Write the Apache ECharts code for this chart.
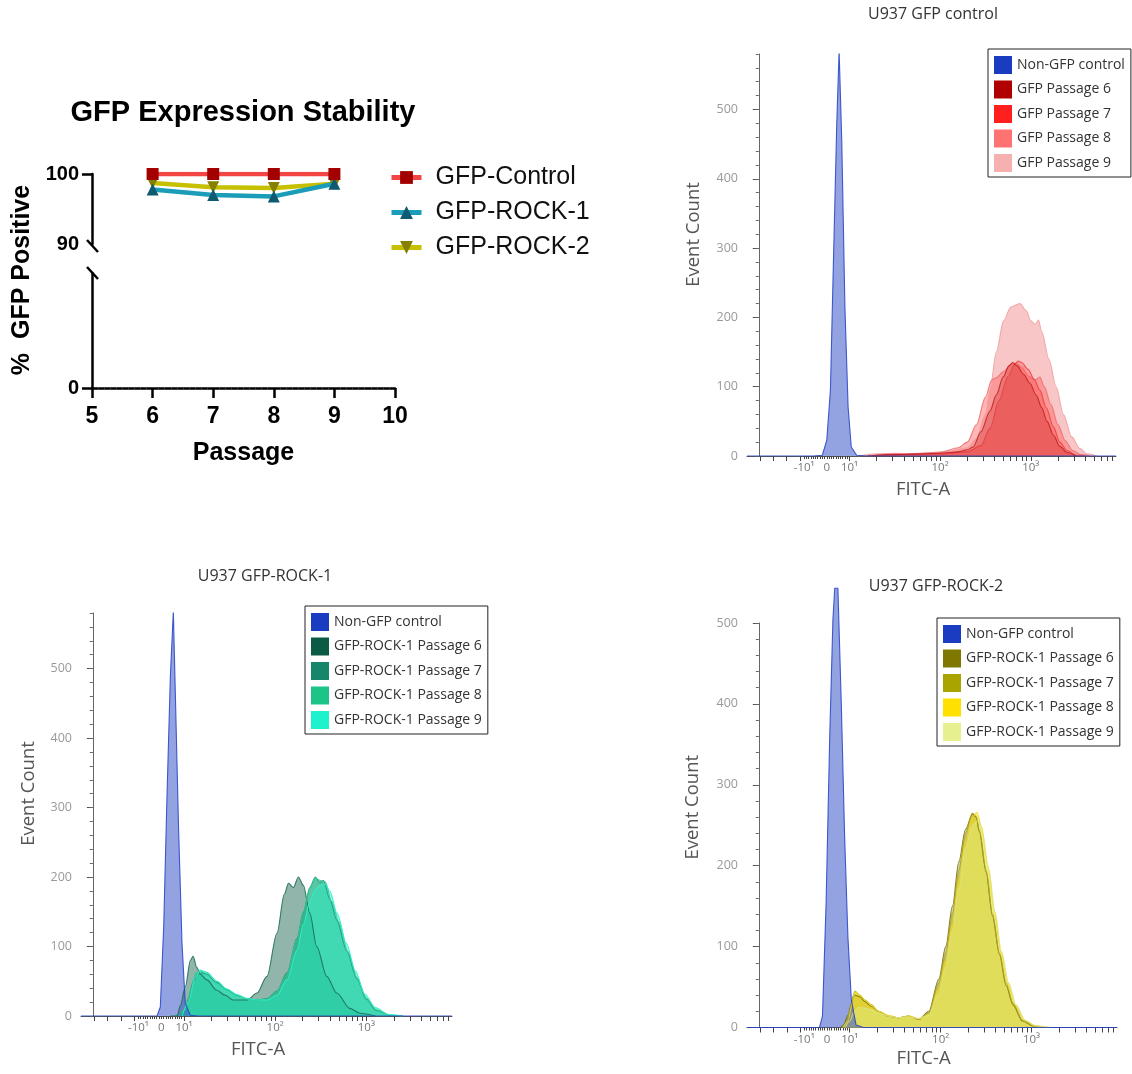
<!DOCTYPE html>
<html><head><meta charset="utf-8">
<script src="https://cdn.jsdelivr.net/npm/echarts@6/dist/echarts.min.js"></script>
<style>html,body{margin:0;padding:0;background:#fff}#c{width:1132px;height:1074px}</style>
</head><body><div id="c"></div>
<script>
// ---------- Panel A: GFP Expression Stability ----------
const passages = [6, 7, 8, 9];
const gfpControl = [100, 100, 100, 100];
const gfpRock1 = [97.8, 97.0, 96.8, 98.6];
const gfpRock2 = [98.7, 98.1, 98.0, 98.6];

// ---------- FITC axis (logicle display units: 10^k at k, 0 at 0.75, -10^1 at 0.5) ----------
const fitcTickPos = [0.5, 0.75, 1, 2, 3];
const fitcTickText = ['-10\u00b9', '0', '10\u00b9', '10\u00b2', '10\u00b3'];
const countTicks = [0, 100, 200, 300, 400, 500];

// ---------- Panel B: U937 GFP control  [FITC display units, event count] ----------
const ctrlNonGfp = [[-0.13,0],[0.6,0],[0.70,1],[0.75,23],[0.79,95],[0.82,263],[0.86,480],[0.886,585],[0.915,456],[0.95,215],[0.985,71],[1.02,13],[1.08,1],[1.2,0],[3.94,0]];
const ctrlP6 = [[1.2,0],[1.5,2],[1.8,3],[2.0,4],[2.2,6],[2.3,9],[2.364,13],[2.45,35],[2.55,65],[2.62,88],[2.695,114],[2.76,130],[2.80,135],[2.85,130],[2.92,118],[2.99,105],[3.06,88],[3.12,70],[3.18,50],[3.25,30],[3.32,14],[3.4,5],[3.5,0]];
const ctrlP7 = [[1.3,0],[1.6,2],[2.0,3],[2.3,6],[2.45,15],[2.55,40],[2.65,80],[2.75,115],[2.82,132],[2.86,137],[2.9,135],[2.97,125],[3.04,110],[3.1,95],[3.17,70],[3.25,42],[3.32,20],[3.4,8],[3.5,1],[3.6,0]];
const ctrlP8 = [[1.2,0],[1.5,3],[1.8,4],[2.0,5],[2.2,12],[2.3,20],[2.4,45],[2.5,85],[2.57,110],[2.62,113],[2.7,122],[2.78,132],[2.84,134],[2.9,128],[2.98,115],[3.05,110],[3.1,114],[3.15,100],[3.22,75],[3.3,45],[3.38,22],[3.46,8],[3.55,2],[3.65,0]];
const ctrlP9 = [[1.1,0],[1.3,3],[1.5,4],[1.7,3],[1.9,5],[2.1,7],[2.3,12],[2.4,25],[2.5,60],[2.55,95],[2.62,150],[2.7,195],[2.78,215],[2.88,220],[2.95,210],[3.0,195],[3.05,190],[3.085,196],[3.12,180],[3.2,140],[3.28,100],[3.36,60],[3.45,28],[3.54,11],[3.62,3],[3.73,0]];

// ---------- Panel C: U937 GFP-ROCK-1 ----------
const r1NonGfp = [[-0.13,0],[0.6,0],[0.704,0],[0.74,13],[0.777,128],[0.814,320],[0.85,488],[0.883,583],[0.905,464],[0.94,272],[0.978,105],[1.014,18],[1.07,1],[1.15,0],[3.94,0]];
const r1P6 = [[0.85,0],[0.923,0],[0.96,15],[1.014,42],[1.07,80],[1.1,86],[1.14,70],[1.18,60],[1.25,52],[1.36,37],[1.45,30],[1.54,23],[1.69,23],[1.8,33],[1.91,57],[2.02,119],[2.1,175],[2.146,191],[2.2,185],[2.255,200],[2.31,188],[2.38,148],[2.456,100],[2.566,57],[2.676,33],[2.82,11],[2.93,4],[3.1,0]];
const r1P7 = [[0.9,0],[1.0,5],[1.05,25],[1.1,50],[1.15,60],[1.2,62],[1.25,60],[1.36,48],[1.47,38],[1.58,30],[1.69,25],[1.8,23],[1.91,25],[2.02,36],[2.13,62],[2.24,112],[2.31,150],[2.38,185],[2.44,200],[2.49,192],[2.53,195],[2.6,168],[2.676,138],[2.785,94],[2.895,54],[3.0,24],[3.11,8],[3.26,1],[3.4,0]];
const r1P8 = [[0.95,0],[1.02,10],[1.08,40],[1.13,62],[1.18,65],[1.25,63],[1.36,50],[1.47,38],[1.58,30],[1.69,25],[1.8,23],[1.91,24],[2.02,35],[2.13,60],[2.24,110],[2.31,150],[2.38,183],[2.44,198],[2.5,195],[2.55,193],[2.62,165],[2.7,135],[2.8,92],[2.9,55],[3.0,26],[3.11,9],[3.26,1],[3.4,0]];
const r1P9 = [[0.98,0],[1.05,20],[1.12,55],[1.18,66],[1.25,62],[1.36,50],[1.47,39],[1.58,31],[1.69,25],[1.8,23],[1.91,23],[2.02,30],[2.13,52],[2.24,95],[2.31,132],[2.38,165],[2.44,182],[2.5,188],[2.55,190],[2.6,180],[2.68,148],[2.78,105],[2.88,65],[2.98,32],[3.1,12],[3.25,2],[3.4,0]];

// ---------- Panel D: U937 GFP-ROCK-2 ----------
const r2NonGfp = [[-0.13,0],[0.6,0],[0.667,0],[0.70,14],[0.74,154],[0.78,360],[0.815,504],[0.835,543],[0.87,543],[0.907,401],[0.944,236],[0.98,112],[1.018,34],[1.07,3],[1.15,0],[3.94,0]];
const r2P6 = [[0.9,0],[0.93,3],[0.98,15],[1.02,30],[1.056,40],[1.11,38],[1.167,32],[1.24,26],[1.315,20],[1.426,14],[1.537,12],[1.65,14],[1.76,10],[1.87,20],[1.98,60],[2.056,100],[2.13,150],[2.2,205],[2.274,245],[2.35,264],[2.39,260],[2.426,242],[2.5,192],[2.57,138],[2.648,90],[2.72,52],[2.796,28],[2.9,8],[3.02,2],[3.15,0]];
const r2P7 = [[0.92,0],[0.96,5],[1.0,20],[1.04,40],[1.056,45],[1.11,40],[1.167,34],[1.24,28],[1.315,20],[1.426,14],[1.537,12],[1.65,14],[1.76,10],[1.87,18],[1.98,55],[2.056,92],[2.13,141],[2.2,195],[2.274,240],[2.35,265],[2.39,261],[2.426,244],[2.5,195],[2.57,141],[2.648,92],[2.72,55],[2.796,30],[2.9,9],[3.02,2],[3.15,0]];
const r2P8 = [[0.93,0],[0.98,8],[1.03,30],[1.06,44],[1.11,40],[1.17,34],[1.24,27],[1.315,20],[1.426,15],[1.537,12],[1.65,14],[1.76,11],[1.87,16],[1.98,48],[2.056,82],[2.13,128],[2.2,182],[2.274,230],[2.35,260],[2.4,266],[2.45,248],[2.52,200],[2.59,145],[2.66,95],[2.74,55],[2.82,28],[2.92,9],[3.04,2],[3.2,0]];
const r2P9 = [[0.95,0],[1.0,8],[1.05,20],[1.1,25],[1.17,24],[1.24,22],[1.315,18],[1.426,14],[1.537,12],[1.65,13],[1.76,11],[1.87,15],[1.98,42],[2.056,75],[2.13,120],[2.2,172],[2.274,222],[2.35,250],[2.41,256],[2.46,240],[2.53,195],[2.6,142],[2.67,94],[2.75,55],[2.83,28],[2.93,9],[3.05,2],[3.2,0]];

// ================= layout / styling =================
const AF = '"Liberation Sans", Arial, sans-serif';
const HF = '"Open Sans", "Noto Sans", sans-serif';
const X_MIN = -0.13, X_MAX = 3.94;

const majorT = [0.016, 0.162, 0.308, 0.454, 1];
for (let k = 1; k <= 3; k++) { for (let m = 2; m <= 9; m++) { const v = k + Math.log10(m); if (v < X_MAX) majorT.push(+v.toFixed(4)); } if (k + 1 <= X_MAX) majorT.push(k + 1); }
const denseT = []; for (let v = 0.5; v <= 1.0001; v += 0.025) denseT.push(+v.toFixed(3));
const minorCount = []; for (let v = 0; v <= 580; v += 20) minorCount.push(v);

function fitcFmt(v) { const i = fitcTickPos.findIndex(p => Math.abs(p - v) < 1e-6); return i >= 0 ? fitcTickText[i] : ''; }

function fitcAxes(g, gap) {
  return [
    { type: 'value', gridIndex: g, position: 'bottom', min: X_MIN, max: X_MAX, name: 'FITC-A', nameLocation: 'middle', nameGap: gap,
      nameTextStyle: { fontFamily: HF, fontSize: 18.5, color: '#555', padding: [0, 17, 0, 0] },
      axisLine: { show: true, onZero: false, lineStyle: { color: '#555', width: 1 } },
      axisTick: { show: true, customValues: majorT, length: 5, lineStyle: { color: '#444', width: 1 } },
      axisLabel: { customValues: fitcTickPos, formatter: fitcFmt, fontFamily: HF, fontSize: 11.5, color: '#777', margin: 6 },
      splitLine: { show: false } },
    { type: 'value', gridIndex: g, position: 'bottom', min: X_MIN, max: X_MAX,
      axisLine: { show: false }, axisTick: { show: true, customValues: denseT, length: 3, lineStyle: { color: '#444', width: 1 } },
      axisLabel: { show: false }, splitLine: { show: false } }
  ];
}
function countAxes(g, max, gap, shiftUp) {
  const mc = minorCount.filter(v => v <= max);
  return [
    { type: 'value', gridIndex: g, position: 'left', min: 0, max: max, interval: 100, name: 'Event Count', nameLocation: 'middle', nameGap: gap,
      nameTextStyle: { fontFamily: HF, fontSize: 18.5, color: '#555', padding: [0, 0, 0, shiftUp * 2] },
      axisLine: { show: true, lineStyle: { color: '#666', width: 1 } },
      axisTick: { show: true, customValues: countTicks, length: 6, lineStyle: { color: '#555' } },
      axisLabel: { customValues: countTicks, fontFamily: HF, fontSize: 12.5, color: '#999', margin: 9 },
      splitLine: { show: false } },
    { type: 'value', gridIndex: g, position: 'left', min: 0, max: max,
      axisLine: { show: false }, axisTick: { show: true, customValues: mc, length: 3, lineStyle: { color: '#666' } },
      axisLabel: { show: false }, splitLine: { show: false } }
  ];
}
function hist(name, data, line, fill, op, xi, yi, smooth, clip) {
  return { type: 'line', name, data, xAxisIndex: xi, yAxisIndex: yi, symbol: 'none', smooth: smooth ? 0.3 : false, smoothMonotone: 'x',
    clip: clip !== false, lineStyle: { color: line, width: 1.1, opacity: 0.85 }, itemStyle: { color: line }, areaStyle: { color: fill, opacity: op } };
}
function histLegend(left, top, items) {
  return { orient: 'vertical', left, top, icon: 'rect', itemWidth: 18, itemHeight: 18, itemGap: 6.5,
    backgroundColor: '#fff', borderColor: '#222', borderWidth: 1, padding: [7, 6, 5, 6], selectedMode: false,
    textStyle: { fontFamily: HF, fontSize: 14, color: '#333' },
    data: items.map(([n, c]) => ({ name: n, itemStyle: { color: c, borderWidth: 0, opacity: 1 } })) };
}
const BLUE_L = '#2441c8', BLUE_F = '#3a55c8', BLUE_S = '#1a3cc0';

const option = {
  animation: false,
  backgroundColor: '#fff',
  grid: [
    { left: 92, top: 174, width: 303, height: 70 },
    { left: 92, top: 273, width: 303, height: 115 },
    { left: 747, top: 54, width: 369, height: 402 },
    { left: 81, top: 613, width: 371, height: 403 },
    { left: 747, top: 623, width: 370, height: 404.5 }
  ],
  xAxis: [
    { type: 'value', gridIndex: 0, min: 5, max: 10, show: false },
    { type: 'value', gridIndex: 1, min: 5, max: 10, interval: 1, name: 'Passage', nameLocation: 'middle', nameGap: 53,
      nameTextStyle: { fontFamily: AF, fontWeight: 'bold', fontSize: 25, color: '#000' },
      axisLine: { show: true, onZero: false, lineStyle: { color: '#000', width: 2.5 } },
      axisTick: { length: 10, lineStyle: { color: '#000', width: 2.5 } },
      minorTick: { show: true, splitNumber: 10, length: 2, lineStyle: { color: '#444', width: 1 } },
      axisLabel: { fontFamily: AF, fontWeight: 'bold', fontSize: 23, color: '#000', margin: 17 },
      splitLine: { show: false } },
    ...fitcAxes(2, 24), ...fitcAxes(3, 24), ...fitcAxes(4, 22)
  ],
  yAxis: [
    { type: 'value', gridIndex: 0, position: 'left', min: 90, max: 100,
      axisLine: { show: true, lineStyle: { color: '#000', width: 2.5 } },
      axisTick: { show: true, customValues: [100], length: 10, lineStyle: { color: '#000', width: 2.5 } },
      axisLabel: { customValues: [90, 100], fontFamily: AF, fontWeight: 'bold', fontSize: 20, color: '#000', margin: 13 },
      splitLine: { show: false } },
    { type: 'value', gridIndex: 1, position: 'left', min: 0, max: 100,
      axisLine: { show: true, lineStyle: { color: '#000', width: 2.5 } },
      axisTick: { show: true, customValues: [0], length: 10, lineStyle: { color: '#000', width: 2.5 } },
      axisLabel: { customValues: [0], fontFamily: AF, fontWeight: 'bold', fontSize: 20, color: '#000', margin: 13 },
      splitLine: { show: false } },
    ...countAxes(2, 580, 44, 20.5), ...countAxes(3, 580, 43, 21), ...countAxes(4, 500, 45, 18)
  ],
  legend: [
    { orient: 'vertical', left: 384, top: 160, itemWidth: 30, itemHeight: 16, itemGap: 10, selectedMode: false,
      lineStyle: { width: 5 },
      textStyle: { fontFamily: AF, fontSize: 25, color: '#111', padding: [0, 0, 0, 9] },
      data: ['GFP-Control', 'GFP-ROCK-1', 'GFP-ROCK-2'] },
    histLegend(988, 49, [['Non-GFP control', BLUE_S], ['GFP Passage 6', '#b00000'], ['GFP Passage 7', '#ff1f1f'], ['GFP Passage 8', '#ff7272'], ['GFP Passage 9', '#f7b0b0']]),
    histLegend(305, 606, [['Non-GFP control', BLUE_S], ['GFP-ROCK-1 Passage 6', '#0b5a45'], ['GFP-ROCK-1 Passage 7', '#16866a'], ['GFP-ROCK-1 Passage 8', '#1cc488'], ['GFP-ROCK-1 Passage 9', '#1ef2cc']]),
    histLegend(937, 618, [['Non-GFP control', BLUE_S], ['GFP-ROCK-1 Passage 6', '#7f7800'], ['GFP-ROCK-1 Passage 7', '#aaa400'], ['GFP-ROCK-1 Passage 8', '#ffe000'], ['GFP-ROCK-1 Passage 9', '#e6f08e']])
  ],
  graphic: [
    { type: 'text', x: 243, y: 113, style: { text: 'GFP Expression Stability', font: 'bold 29px "Liberation Sans", Arial', fill: '#000', textAlign: 'center', textVerticalAlign: 'middle' } },
    { type: 'text', x: 22, y: 280, rotation: Math.PI / 2, style: { text: '%  GFP Positive', font: 'bold 25px "Liberation Sans", Arial', fill: '#000', textAlign: 'center', textVerticalAlign: 'middle' } },
    { type: 'line', shape: { x1: 87, y1: 240, x2: 98, y2: 252 }, style: { stroke: '#000', lineWidth: 2.5 } },
    { type: 'line', shape: { x1: 87, y1: 267, x2: 98, y2: 279 }, style: { stroke: '#000', lineWidth: 2.5 } },
    { type: 'text', x: 933, y: 14, style: { text: 'U937 GFP control', font: '16px "Open Sans"', fill: '#333', textAlign: 'center', textVerticalAlign: 'middle' } },
    { type: 'text', x: 265, y: 576, style: { text: 'U937 GFP-ROCK-1', font: '16px "Open Sans"', fill: '#333', textAlign: 'center', textVerticalAlign: 'middle' } },
    { type: 'text', x: 936, y: 586, style: { text: 'U937 GFP-ROCK-2', font: '16px "Open Sans"', fill: '#333', textAlign: 'center', textVerticalAlign: 'middle' } }
  ],
  series: [
    { type: 'line', name: 'GFP-ROCK-2', xAxisIndex: 0, yAxisIndex: 0, data: passages.map((p, i) => [p, gfpRock2[i]]),
      symbol: 'triangle', symbolRotate: 180, symbolSize: 12, lineStyle: { color: '#c6c000', width: 4.5 }, itemStyle: { color: '#858000' } },
    { type: 'line', name: 'GFP-ROCK-1', xAxisIndex: 0, yAxisIndex: 0, data: passages.map((p, i) => [p, gfpRock1[i]]),
      symbol: 'triangle', symbolSize: 12, lineStyle: { color: '#1b9cb8', width: 4.5 }, itemStyle: { color: '#0e5a70' } },
    { type: 'line', name: 'GFP-Control', xAxisIndex: 0, yAxisIndex: 0, data: passages.map((p, i) => [p, gfpControl[i]]),
      symbol: 'rect', symbolSize: 12, lineStyle: { color: '#f44545', width: 4.5 }, itemStyle: { color: '#a30000' } },

    hist('GFP Passage 9', ctrlP9, '#eea0a0', '#f08080', 0.45, 2, 2, true),
    hist('GFP Passage 8', ctrlP8, '#f06868', '#ff6060', 0.45, 2, 2, true),
    hist('GFP Passage 7', ctrlP7, '#e84040', '#ff2020', 0.25, 2, 2, true),
    hist('GFP Passage 6', ctrlP6, '#c02020', '#b00000', 0.22, 2, 2, true),
    hist('Non-GFP control', ctrlNonGfp, BLUE_L, BLUE_F, 0.55, 2, 2, false),

    hist('GFP-ROCK-1 Passage 6', r1P6, '#1a6a55', '#0b5a45', 0.45, 4, 4, true),
    hist('GFP-ROCK-1 Passage 7', r1P7, '#239478', '#138a68', 0.45, 4, 4, true),
    hist('GFP-ROCK-1 Passage 8', r1P8, '#2ccc94', '#1ec48a', 0.5, 4, 4, true),
    hist('GFP-ROCK-1 Passage 9', r1P9, '#30f0cc', '#22f0c8', 0.45, 4, 4, true),
    hist('Non-GFP control', r1NonGfp, BLUE_L, BLUE_F, 0.55, 4, 4, false),

    hist('GFP-ROCK-1 Passage 6', r2P6, '#7a7410', '#7a7400', 0.35, 6, 6, true),
    hist('GFP-ROCK-1 Passage 7', r2P7, '#aaa420', '#aaa400', 0.35, 6, 6, true),
    hist('GFP-ROCK-1 Passage 8', r2P8, '#f0d820', '#ffe000', 0.5, 6, 6, true),
    hist('GFP-ROCK-1 Passage 9', r2P9, '#dce48a', '#e0ec80', 0.5, 6, 6, true),
    hist('Non-GFP control', r2NonGfp, BLUE_L, BLUE_F, 0.55, 6, 6, false, false)
  ]
};
const chart = echarts.init(document.getElementById('c'), null, { renderer: 'canvas' });
chart.setOption(option);
</script></body></html>
